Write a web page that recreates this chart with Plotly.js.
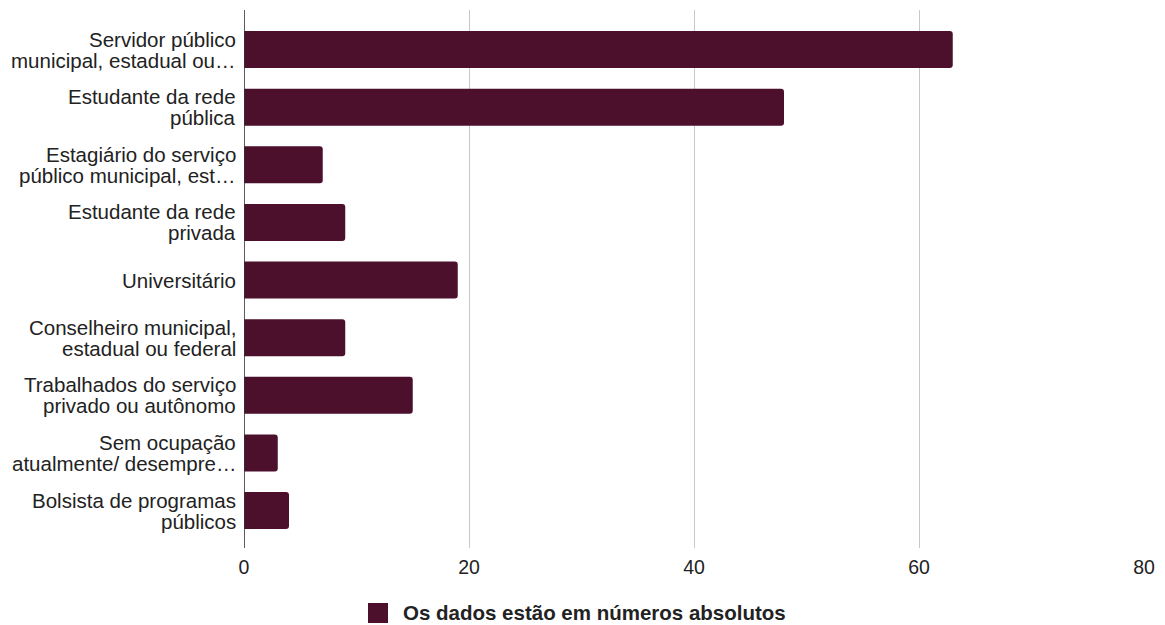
<!DOCTYPE html>
<html>
<head>
<meta charset="utf-8">
<script src="https://cdn.plot.ly/plotly-3.0.1.min.js"></script>
<style>html,body{margin:0;padding:0;background:#fff;}#chart{width:1165px;height:625px;}</style>
</head>
<body>
<div id="chart"></div>
<script>
const categories = [
  "Servidor público|municipal, estadual ou…",
  "Estudante da rede|pública",
  "Estagiário do serviço|público municipal, est…",
  "Estudante da rede|privada",
  "Universitário",
  "Conselheiro municipal,|estadual ou federal",
  "Trabalhados do serviço|privado ou autônomo",
  "Sem ocupação|atualmente/ desempre…",
  "Bolsista de programas|públicos"
];
const values = [63, 48, 7, 9, 19, 9, 15, 3, 4];
const seriesName = "Os dados estão em números absolutos";
const xTicks = [0, 20, 40, 60, 80];

const FONT = 'Liberation Sans, Arial, sans-serif';
const barColor = '#4c102c';

const trace = {
  type: 'bar',
  orientation: 'h',
  y: categories,
  x: values,
  name: seriesName,
  marker: {color: barColor, cornerradius: 3},
  showlegend: false,
  hovertemplate: '%{x}<extra></extra>'
};

// category labels as annotations (one per line, tighter line spacing)
const annotations = [];
categories.forEach(c => {
  const lines = c.split('|');
  const n = lines.length;
  lines.forEach((ln, i) => {
    annotations.push({
      xref: 'paper', yref: 'y', x: 0, y: c, xanchor: 'right', yanchor: 'middle',
      xshift: -6, yshift: ((n - 1) / 2 - i) * 21,
      text: ln, showarrow: false, font: {family: FONT, size: 20.5, color: '#222'}
    });
  });
});
// legend text
annotations.push({
  xref: 'paper', yref: 'paper', x: (401 - 244) / 900, y: (548 - 613) / 538, xanchor: 'left', yanchor: 'middle',
  text: '<b>' + seriesName + '</b>', showarrow: false, font: {family: FONT, size: 20.5, color: '#222'}
});

const layout = {
  width: 1165, height: 625,
  margin: {l: 244, r: 21, t: 10, b: 77},
  paper_bgcolor: '#fff', plot_bgcolor: '#fff',
  font: {family: FONT, size: 19.5, color: '#222'},
  bargap: 0.358,
  showlegend: false,
  xaxis: {range: [0, 80], tickvals: xTicks, ticktext: xTicks.map(String), showgrid: true, gridcolor: '#c8c8c8', gridwidth: 1.4,
          zeroline: false, showline: false, ticks: '', ticklabelstandoff: 5, fixedrange: true},
  yaxis: {categoryorder: 'array', categoryarray: categories, range: [8.65, -0.686], showline: false,
          showticklabels: false, ticks: '', showgrid: false, zeroline: false, fixedrange: true},
  annotations: annotations,
  shapes: [
    {type: 'line', xref: 'x', yref: 'paper', x0: 0, x1: 0, y0: 0, y1: 1, line: {color: '#333', width: 1.6}},
    {type: 'rect', xref: 'paper', yref: 'paper', x0: (368 - 244) / 900, x1: (388 - 244) / 900,
     y0: (548 - 603) / 538, y1: (548 - 623) / 538, fillcolor: barColor, line: {width: 0}}
  ]
};

Plotly.newPlot('chart', [trace], layout, {displayModeBar: false});
</script>
</body>
</html>
